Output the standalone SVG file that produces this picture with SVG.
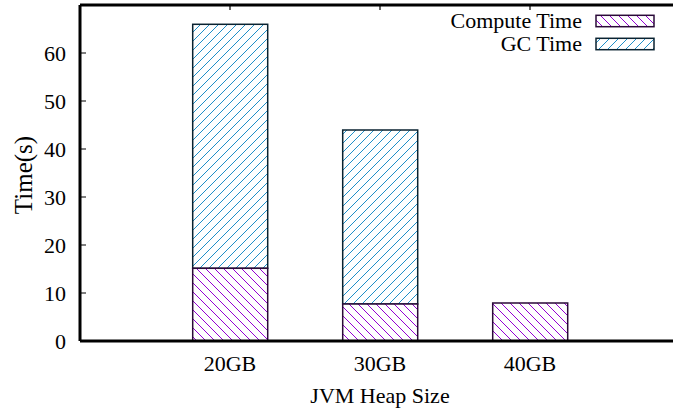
<svg xmlns="http://www.w3.org/2000/svg" width="673" height="413" viewBox="0 0 673 413">
<style>
text{font-family:"Liberation Serif","Times New Roman",serif;font-size:22px;fill:#000}
.yt{text-anchor:end}
.xt{text-anchor:middle}
.ax{stroke:#000;stroke-width:3;fill:none}
.tk{stroke:#000;stroke-width:1.2;fill:none}
.cp{fill:url(#hc);stroke:#2a0a38;stroke-width:1.5}
.gc{fill:url(#hg);stroke:#0a2230;stroke-width:1.5}
</style>
<defs>
<pattern id="hc" patternUnits="userSpaceOnUse" width="9" height="9">
<rect width="9" height="9" fill="#fff"/>
<path d="M0,0 L9,9 M-9,0 L0,9 M9,0 L18,9" stroke="#9400d3" stroke-width="1"/>
</pattern>
<pattern id="hg" patternUnits="userSpaceOnUse" width="9" height="9">
<rect width="9" height="9" fill="#fff"/>
<path d="M0,9 L9,0 M-9,9 L0,0 M9,9 L18,0" stroke="#1f8fc8" stroke-width="1"/>
</pattern>
</defs>
<rect width="673" height="413" fill="#fff"/>
<g id="bars">
<g id="bar-20GB">
<rect class="gc" x="192.7" y="24.3" width="75" height="244"/>
<rect class="cp" x="192.7" y="268.3" width="75" height="72.7"/>
</g>
<g id="bar-30GB">
<rect class="gc" x="342.7" y="130" width="75" height="174"/>
<rect class="cp" x="342.7" y="304" width="75" height="37"/>
</g>
<g id="bar-40GB">
<rect class="cp" x="492.7" y="303" width="75" height="38"/>
</g>
</g>
<g id="axes">
<path class="ax" d="M80,5 V341 M80,5 H673 M80,341 H673"/>
<path class="tk" d="M80,53 h6 M80,101 h6 M80,149 h6 M80,197 h6 M80,245 h6 M80,293 h6"/>
<path class="tk" d="M230,5 v5 M380,5 v5 M530,5 v5"/>
<text class="yt" x="66" y="349">0</text>
<text class="yt" x="66" y="301">10</text>
<text class="yt" x="66" y="253">20</text>
<text class="yt" x="66" y="205">30</text>
<text class="yt" x="66" y="157">40</text>
<text class="yt" x="66" y="109">50</text>
<text class="yt" x="66" y="61">60</text>
<text class="xt" x="230" y="371">20GB</text>
<text class="xt" x="380" y="371">30GB</text>
<text class="xt" x="530" y="371">40GB</text>
<text class="xt" x="380" y="403">JVM Heap Size</text>
<text class="xt" style="font-size:25px" transform="translate(32,175) rotate(-90)">Time(s)</text>
</g>
<g id="legend">
<text class="yt" x="582" y="28">Compute Time</text>
<rect class="cp" x="596" y="15.3" width="58" height="11.4"/>
<text class="yt" x="582" y="51">GC Time</text>
<rect class="gc" x="596" y="38.3" width="58" height="11.4"/>
</g>
</svg>
